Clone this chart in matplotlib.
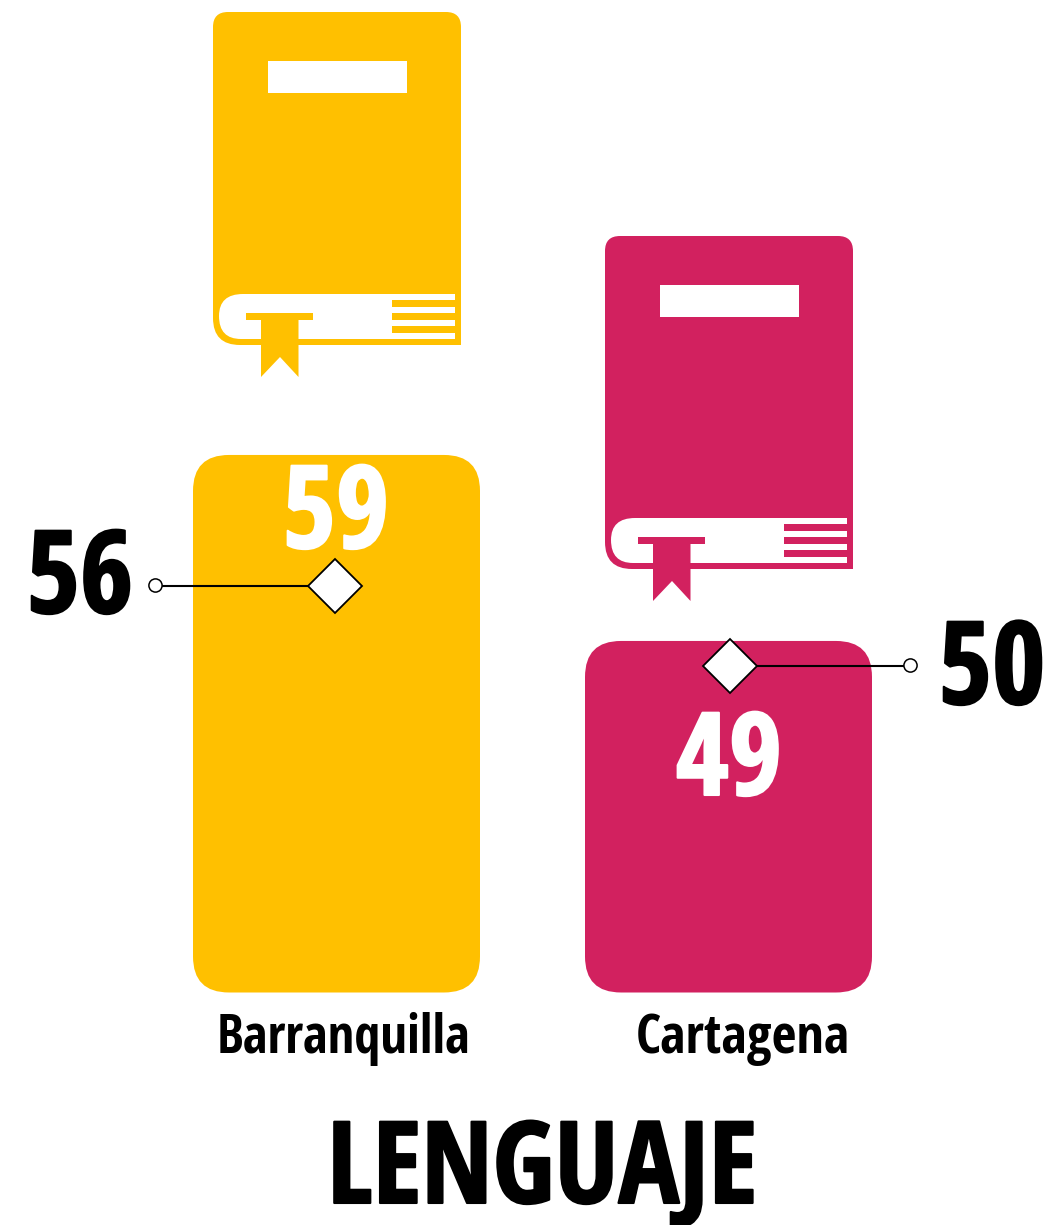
import matplotlib
matplotlib.use('Agg')
import matplotlib.pyplot as plt
import matplotlib.patheffects as pe
from matplotlib.patches import FancyBboxPatch, PathPatch, Rectangle
from matplotlib.path import Path

cities = ['Barranquilla', 'Cartagena']
bar_values = [59, 49]
marker_values = [56, 50]
colors = ['#FFC000', '#D2215F']
title = 'LENGUAJE'

W, H = 1055, 1225
plt.rcParams['font.family'] = ['Open Sans Condensed', 'Fira Sans Condensed', 'DejaVu Sans']


def book(ax, dx, dy, color):
    # outer cover, coordinates are pixels of the first book
    M, L, C, Z = Path.MOVETO, Path.LINETO, Path.CURVE3, Path.CLOSEPOLY
    cover = [(M, (228, 12)), (L, (446, 12)), (C, (461, 12)), (C, (461, 27)),
             (L, (461, 345)), (L, (240, 345)), (C, (213, 345)), (C, (213, 318)),
             (L, (213, 27)), (C, (213, 12)), (C, (228, 12)), (Z, (228, 12))]
    spine = [(M, (243, 294)), (L, (455, 294)), (L, (455, 339)), (L, (241, 339)),
             (C, (219, 339)), (C, (219, 316)), (C, (219, 294)), (C, (243, 294)),
             (Z, (243, 294))]
    ribbon = [(M, (246, 313)), (L, (313, 313)), (L, (313, 320)), (L, (298.5, 320)),
              (L, (298.5, 377)), (L, (280, 357)), (L, (261, 377)), (L, (261, 320)),
              (L, (246, 320)), (Z, (246, 313))]

    def add(parts, fc):
        codes = [p[0] for p in parts]
        verts = [(p[1][0] + dx, p[1][1] + dy) for p in parts]
        ax.add_patch(PathPatch(Path(verts, codes), fc=fc, ec='none', zorder=2))

    add(cover, color)
    add(spine, 'white')
    add(ribbon, color)
    ax.add_patch(Rectangle((268 + dx, 61 + dy), 139, 32, fc='white', ec='none', zorder=3))
    for y0 in [300, 313, 326]:
        ax.add_patch(Rectangle((391.5 + dx, y0 + dy), 64, 6.5, fc=color, ec='none', zorder=3))


fig = plt.figure(figsize=(W / 100, H / 100), dpi=100, facecolor='white')

# bars have their own value axis (starts near 30)
ax_bar = fig.add_axes([0, 0, 1, 1], zorder=1)
ax_bar.set_xlim(0, W)
ax_bar.set_ylim(17.6, 83.46)
ax_bar.axis('off')
y_scale = H / (83.46 - 17.6)
base = 30.1
bar_x = [193, 585]
bar_w = 287
for x0, v, c in zip(bar_x, bar_values, colors):
    ax_bar.add_patch(FancyBboxPatch((x0, base), bar_w, v - base,
                                    boxstyle='round,pad=0,rounding_size=36',
                                    mutation_aspect=1 / y_scale, fc=c, ec='none'))

# markers sit on a second scale
ax_mark = fig.add_axes([0, 0, 1, 1], zorder=2)
ax_mark.set_xlim(0, W)
ax_mark.set_ylim(56 - (1225 - 586) / 13.33, 56 + 586 / 13.33)
ax_mark.axis('off')
mark_x = [334.5, 729.5]
end_x = [154.5, 909.5]
for mx, ex, v in zip(mark_x, end_x, marker_values):
    ax_mark.plot([mx, ex], [v, v], color='black', lw=1.5, zorder=3)
    ax_mark.plot(ex, v + 0.07, 'o', ms=9.5, mfc='white', mec='black', mew=1.1, zorder=4)
    ax_mark.plot(mx, v, 'D', ms=27, mfc='white', mec='black', mew=1.3, zorder=4)

# books and text in pixel coords
ax = fig.add_axes([0, 0, 1, 1], zorder=3)
ax.set_xlim(0, W)
ax.set_ylim(H, 0)
ax.axis('off')
book(ax, 0, 0, colors[0])
book(ax, 392, 224, colors[1])

txt = dict(ha='center', va='baseline', fontweight='bold')


def heavy(color):
    return [pe.withStroke(linewidth=1.5, foreground=color)]


ax.text(336, 548, str(bar_values[0]), color='white', fontsize=83, path_effects=heavy('white'), **txt)
ax.text(729, 795, str(bar_values[1]), color='white', fontsize=83, path_effects=heavy('white'), **txt)
ax.text(80, 613, str(marker_values[0]), color='black', fontsize=83, path_effects=heavy('black'), **txt)
ax.text(992, 704, str(marker_values[1]), color='black', fontsize=83, path_effects=heavy('black'), **txt)
ax.text(344, 1053, cities[0], color='black', fontsize=38, **txt)
ax.text(743, 1053, cities[1], color='black', fontsize=39, **txt)
ax.text(542, 1203, title, color='black', fontsize=82, path_effects=heavy('black'), **txt)

fig.savefig('out.png', dpi=100)
